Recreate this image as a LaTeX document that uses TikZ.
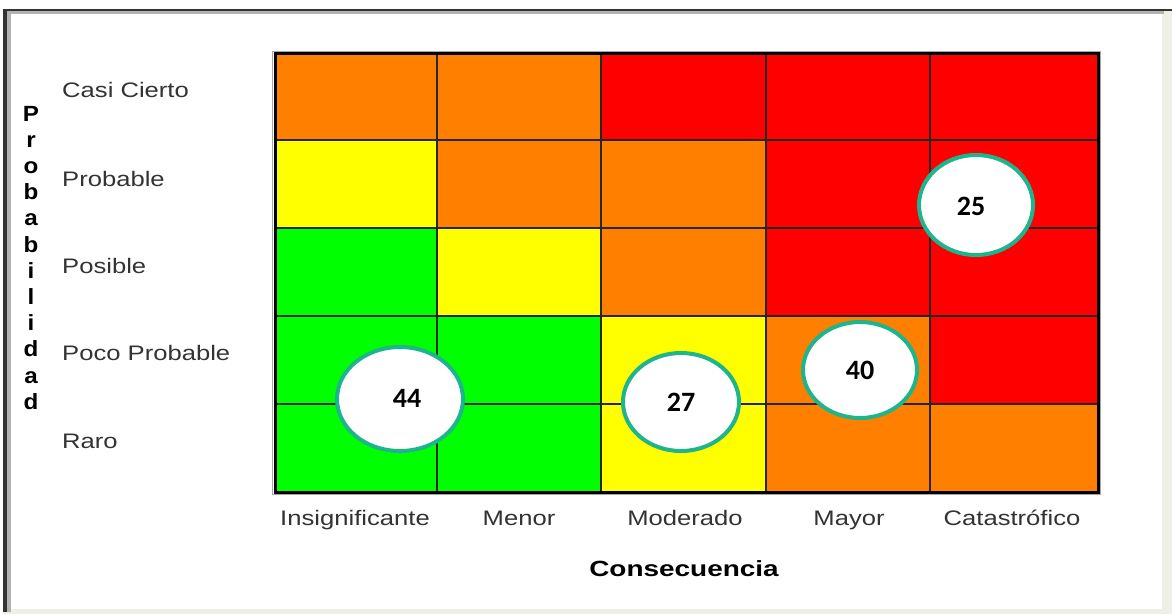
\documentclass[tikz,border=0pt]{standalone}
\usepackage{fontspec}
\setmainfont{Liberation Sans}
\newfontfamily\labfont[FakeStretch=1.22]{Liberation Sans}
\newfontfamily\boldlab[FakeStretch=1.27]{Liberation Sans Bold}
\newfontfamily\vfont[FakeStretch=1.1]{Liberation Sans Bold}
\newfontfamily\numfont{Carlito}
\usetikzlibrary{shapes.geometric}
\definecolor{rorange}{HTML}{FF8000}
\definecolor{ryellow}{HTML}{FFFF00}
\definecolor{rgreen}{HTML}{00FF00}
\definecolor{rred}{HTML}{FF0000}
\definecolor{teal2}{RGB}{30,180,140}
\definecolor{txtgray}{HTML}{333333}
\definecolor{framebeige}{HTML}{F0EFE6}
\begin{document}
\begin{tikzpicture}[x=1pt,y=-1pt,
  rowlab/.style={anchor=base west,text=txtgray,font=\labfont\fontsize{21}{21}\selectfont,inner sep=0pt},
  collab/.style={anchor=base,text=txtgray,font=\labfont\fontsize{21}{21}\selectfont,inner sep=0pt},
  vlet/.style={anchor=base,font=\vfont\fontsize{22}{22}\selectfont,inner sep=0pt},
  numtxt/.style={font=\numfont\bfseries\fontsize{28}{28}\selectfont,inner sep=0pt},
  bubble/.style={ellipse,draw=teal2,line width=4pt,fill=white,numtxt},
  gridline/.style={line width=1.8pt,draw=black!85}
]
\useasboundingbox (0,0) rectangle (1172,614);
\fill[white] (0,0) rectangle (1172,614);
% window frame
\fill[framebeige] (1162,10) rectangle (1172,614);
\fill[framebeige] (3,609) rectangle (1172,614);
\fill[gray!60] (3,10) rectangle (1164,14);
\fill[gray!60] (3,10) rectangle (11,612);
\fill[black!80] (3,9) rectangle (1172,11);
\fill[black!80] (3,9) rectangle (7,612);
% cells
\def\colx{{275,437,601,766,930,1098}}
\def\rowy{{53,140,228,316,404,492}}
\foreach \r/\cols in {0/{rorange,rorange,rred,rred,rred},
                      1/{ryellow,rorange,rorange,rred,rred},
                      2/{rgreen,ryellow,rorange,rred,rred},
                      3/{rgreen,rgreen,ryellow,rorange,rred},
                      4/{rgreen,rgreen,ryellow,rorange,rorange}}{
  \foreach \c [count=\i from 0] in \cols {
    \pgfmathsetmacro{\xa}{\colx[\i]}
    \pgfmathsetmacro{\xb}{\colx[\i+1]}
    \pgfmathsetmacro{\ya}{\rowy[\r]}
    \pgfmathsetmacro{\yb}{\rowy[\r+1]}
    \fill[\c] (\xa,\ya) rectangle (\xb,\yb);
  }
}
\foreach \x in {437,601,766,930} \draw[gridline] (\x,53) -- (\x,492);
\foreach \y in {140,228,316,404} \draw[gridline] (275,\y) -- (1098,\y);
\draw[gray!70,line width=1pt] (272,51) rectangle (1100,494);
\draw[black,line width=3pt] (275,53) rectangle (1098,492);
% row labels
\node[rowlab] (r1) at (62,97) {Casi Cierto};
\node[rowlab] (r2) at (62,186) {Probable};
\node[rowlab] (r3) at (62,273) {Posible};
\node[rowlab] (r4) at (62,360) {Poco Probable};
\node[rowlab] (r5) at (62,448) {Raro};
% column labels
\node[collab] (c1) at (355,525) {Insignificante};
\node[collab] (c2) at (519,525) {Menor};
\node[collab] (c3) at (685,525) {Moderado};
\node[collab] (c4) at (849,525) {Mayor};
\node[collab] (c5) at (1012,525) {Catastrófico};
\node[anchor=base,font=\boldlab\fontsize{22}{22}\selectfont,inner sep=0pt] (cons) at (684,576) {Consecuencia};
% vertical axis title
\foreach \l [count=\k from 0] in {P,r,o,b,a,b,i,l,i,d,a,d}{
  \node[vlet] (p\k) at (31,{121+\k*26.2}) {\l};
}
% bubbles
\node[bubble,minimum width=126pt,minimum height=104pt] (b44) at (400,399) {};
\node[numtxt] (t44) at (407,398) {44};
\node[bubble,minimum width=116pt,minimum height=98pt] (b27) at (681,402) {27};
\node[bubble,minimum width=114pt,minimum height=96pt] (b40) at (860,370) {40};
\node[bubble,minimum width=114pt,minimum height=100pt] (b25) at (976,205) {};
\node[numtxt] (t25) at (971,206) {25};
\end{tikzpicture}
\end{document}
